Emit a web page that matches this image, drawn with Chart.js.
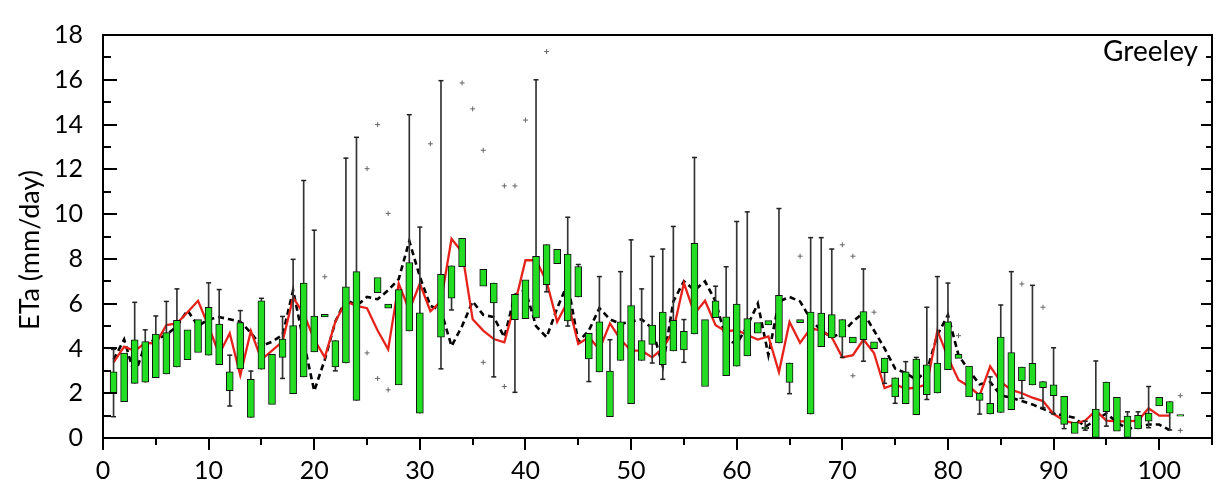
<!DOCTYPE html>
<html><head><meta charset="utf-8">
<script src="https://cdn.jsdelivr.net/npm/chart.js@4"></script>
<style>html,body{margin:0;padding:0;background:#fff}#wrap{width:1220px;height:499px}</style>
</head><body><div id="wrap"><canvas id="c" width="1220" height="499"></canvas></div>
<script>
// ---- data ----
const boxDays = [1,2,3,4,5,6,7,8,9,10,11,12,13,14,15,16,17,18,19,20,21,22,23,24,26,27,28,29,30,32,33,34,36,37,39,40,41,42,43,44,45,46,47,48,49,50,51,52,53,54,55,56,57,58,59,60,61,62,63,64,65,66,67,68,69,70,71,72,73,74,75,76,77,78,79,80,81,82,83,84,85,86,87,88,89,90,91,92,93,94,95,96,97,98,99,100,101,102];
const boxQ1 = [2.0,1.62,2.44,2.49,2.70,2.86,3.17,3.50,3.82,3.70,3.28,2.11,3.09,0.92,3.07,1.50,3.60,1.98,2.73,3.85,5.41,3.17,3.35,1.68,6.49,5.80,2.37,4.78,1.11,4.50,6.24,7.65,6.78,6.03,5.29,5.33,5.36,6.85,7.79,5.23,6.30,3.53,2.95,0.95,3.46,1.53,3.46,4.18,3.27,3.89,3.93,4.65,2.30,5.38,2.78,3.21,3.67,4.68,5.05,4.25,2.48,5.15,1.07,4.08,4.47,4.50,4.25,4.39,3.99,2.92,1.84,1.53,1.04,1.94,2.01,3.05,3.56,1.84,1.68,1.07,1.14,1.26,2.56,2.37,2.25,1.89,0.61,0.20,0.40,0.03,1.18,0.30,0.03,0.40,0.75,1.43,1.11,0.97];
const boxQ3 = [2.95,3.79,4.39,4.31,4.64,4.71,5.26,4.83,5.29,5.84,5.09,2.95,5.15,2.62,6.13,3.74,4.42,5.02,6.92,5.45,5.52,4.35,6.75,7.43,7.17,5.98,6.63,7.84,5.59,7.31,7.69,8.92,7.53,6.92,6.42,7.07,8.11,8.64,8.43,8.22,7.66,4.68,5.19,2.99,5.19,5.91,4.35,5.04,5.62,5.26,4.76,8.69,5.29,6.13,5.41,5.98,5.33,5.15,5.24,6.37,3.35,5.29,5.62,5.58,5.51,5.29,4.51,5.65,4.29,3.57,2.69,2.95,3.53,3.27,3.35,5.19,3.74,3.21,2.01,1.55,4.51,3.82,3.17,3.34,2.52,2.37,1.86,0.71,0.49,1.29,2.50,1.82,0.98,1.01,1.11,1.82,1.63,1.05];
const whiskMin = [0.95,null,null,null,null,null,null,null,null,null,null,1.43,null,null,null,null,2.66,null,null,null,null,3.0,null,null,null,null,null,null,null,3.09,5.72,null,null,2.73,2.04,null,null,6.53,null,5.0,null,2.52,null,null,null,null,null,3.35,2.62,null,3.38,null,null,null,null,null,null,null,null,null,1.98,null,null,null,null,3.60,null,3.43,null,2.44,1.55,null,null,1.72,null,null,null,null,1.07,null,null,null,1.77,null,1.36,1.07,0.42,null,0.35,null,0.53,null,null,null,0.46,null,0.36,null];
const whiskMax = [3.96,null,6.06,4.83,5.45,6.10,6.66,null,null,6.93,6.63,3.70,5.69,2.99,6.24,null,5.43,7.98,11.5,9.28,null,null,12.5,13.43,null,null,null,14.44,9.42,15.96,null,null,null,null,null,null,16.0,null,null,9.86,7.75,null,7.21,4.39,7.43,8.85,6.66,8.11,8.44,9.45,5.29,12.53,null,6.78,7.65,9.67,10.1,null,null,10.25,null,null,8.95,8.95,8.44,null,null,7.55,null,null,null,3.41,3.60,5.84,7.21,6.92,null,null,null,2.73,5.94,7.43,null,6.82,null,4.03,null,null,0.75,3.44,null,null,1.17,1.17,2.30,null,null,null];
const outlierDays = [21,25,25,26,26,27,27,31,34,35,36,36,38,38,39,40,42,66,70,71,71,73,81,87,89,102,102];
const outlierVals = [7.2,3.8,12.03,14.0,2.66,10.03,2.15,13.14,15.86,14.7,12.85,3.38,11.26,2.3,11.26,14.2,17.26,8.12,8.63,8.12,2.78,5.62,4.57,6.88,5.84,1.89,0.34];
const lineDays = Array.from({length:101},(_,i)=>i+1);
const redVals = [3.38,4.08,3.89,4.25,4.22,5.04,5.12,5.62,6.13,4.98,3.74,4.68,2.80,4.78,3.5,3.9,4.3,6.27,5.55,4.4,3.6,5.2,6.1,5.9,5.8,4.8,3.96,6.9,5.7,6.9,5.66,6.1,8.9,8.3,5.3,4.8,4.42,4.27,6.0,7.94,7.94,6.99,5.19,6.1,4.2,4.5,3.96,5.12,4.4,3.9,3.9,3.6,4.0,4.8,6.92,5.55,6.13,5.04,4.76,4.83,4.6,4.4,4.54,2.95,5.18,4.25,4.9,4.8,4.5,3.6,3.7,4.4,3.8,2.23,2.4,2.2,2.25,2.4,4.8,3.6,2.59,2.3,1.9,3.2,2.5,2.15,2.0,1.8,1.65,1.07,0.78,0.64,0.78,1.22,0.78,0.74,0.74,0.78,1.33,1.0,1.0];
const dashVals = [3.5,4.4,2.8,4.2,4.4,4.6,5.0,5.7,5.0,5.3,5.4,5.3,5.2,4.7,4.1,4.3,4.6,6.6,4.3,2.1,3.5,5.2,6.2,5.9,6.3,6.2,6.6,7.1,8.8,7.2,5.9,5.7,4.1,5.0,6.1,5.5,5.4,4.5,6.4,6.6,5.0,4.5,5.8,6.9,4.3,4.8,5.8,5.3,5.1,5.2,5.3,4.9,3.2,6.1,7.0,6.6,7.0,6.1,4.4,4.2,5.0,6.0,3.7,6.1,6.3,6.1,5.3,4.8,4.5,4.7,5.2,5.6,4.8,4.0,3.1,2.9,2.6,3.0,4.6,5.5,3.7,3.0,2.4,2.5,1.9,1.8,1.65,1.5,1.3,1.1,1.0,0.9,0.5,0.8,1.1,0.7,0.4,0.5,0.6,0.6,0.35];
const xTicks = [0,10,20,30,40,50,60,70,80,90,100];
const yTicks = [0,2,4,6,8,10,12,14,16,18];
const stationName = 'Greeley';
const yTitle = 'ETa (mm/day)';

// ---- build datasets ----
const FONT = 'Lato, "Open Sans", sans-serif';
const boxData = boxDays.map((d,i)=>({x:d, y:[boxQ1[i], boxQ3[i]]}));
const whiskData = [], capData = [];
boxDays.forEach((d,i)=>{
  const lo = whiskMin[i], hi = whiskMax[i];
  if (lo!=null || hi!=null) {
    whiskData.push({x:d, y:[lo!=null?lo:boxQ1[i], hi!=null?hi:boxQ3[i]]});
  }
  if (lo!=null) capData.push({x:d, y:lo});
  if (hi!=null) capData.push({x:d, y:hi});
});
const outData = outlierDays.map((d,i)=>({x:d, y:outlierVals[i]}));
const redData = lineDays.map((d,i)=>({x:d, y:redVals[i]}));
const dashData = lineDays.map((d,i)=>({x:d, y:dashVals[i]}));

const framePlugin = {
  id:'frame',
  afterDraw(chart){
    const {ctx, chartArea:a, scales:{x, y}} = chart;
    ctx.save();
    ctx.strokeStyle = '#000';
    ctx.lineWidth = 2;
    ctx.strokeRect(a.left, a.top, a.right-a.left, a.bottom-a.top);
    ctx.beginPath();
    for (let v=0; v<=18; v+=1) {
      const py = Math.round(y.getPixelForValue(v));
      const L = (v%2===0)?14:8;
      const R = (v%2===0)?11:6;
      ctx.moveTo(a.left, py); ctx.lineTo(a.left+L, py);
      ctx.moveTo(a.right, py); ctx.lineTo(a.right-R, py);
    }
    for (let v=0; v<=105; v+=5) {
      const px = Math.round(x.getPixelForValue(v));
      const L = (v%10===0)?12:7;
      ctx.moveTo(px, a.bottom); ctx.lineTo(px, a.bottom+L);
    }
    ctx.stroke();
    ctx.fillStyle = '#000';
    ctx.font = '28px ' + FONT;
    ctx.textAlign = 'right';
    ctx.textBaseline = 'alphabetic';
    ctx.fillText(stationName, a.right-14, 61);
    ctx.translate(30, 250);
    ctx.rotate(-Math.PI/2);
    ctx.textAlign = 'center';
    ctx.textBaseline = 'middle';
    ctx.font = '27px ' + FONT;
    ctx.fillText(yTitle, 0, 0);
    ctx.restore();
  }
};

new Chart(document.getElementById('c'), {
  type:'bar',
  data:{datasets:[
    {type:'bar', data:boxData, backgroundColor:'#22dd22', borderColor:'#111', borderWidth:1, borderSkipped:false, barThickness:7, grouped:false, order:1},
    {type:'scatter', data:capData, pointStyle:'line', pointRadius:2.5, borderColor:'#222', borderWidth:1.5, order:2},
    {type:'scatter', data:outData, pointStyle:'cross', pointRadius:2.5, borderColor:'#666', borderWidth:1, order:2},
    {type:'bar', data:whiskData, backgroundColor:'#333', barThickness:1, grouped:false, order:3},
    {type:'line', data:redData, borderColor:'#e5231b', borderWidth:2.3, pointRadius:0, tension:0, order:4},
    {type:'line', data:dashData, borderColor:'#000', borderWidth:2.6, borderDash:[6,4], pointRadius:0, tension:0, order:5}
  ]},
  options:{
    responsive:false, animation:false, devicePixelRatio:1,
    layout:{padding:{top:23, right:8, left:0, bottom:0}},
    plugins:{legend:{display:false}, tooltip:{enabled:false}},
    scales:{
      x:{type:'linear', min:0, max:105, offset:false,
         grid:{display:false, drawTicks:false}, border:{display:false},
         afterBuildTicks:s=>{s.ticks = xTicks.map(v=>({value:v}));},
         afterFit:s=>{s.height = 61;},
         ticks:{padding:18, color:'#000', font:{family:FONT, size:25}, maxRotation:0, autoSkip:false}},
      y:{type:'linear', min:0, max:18,
         grid:{display:false, drawTicks:false}, border:{display:false},
         afterBuildTicks:s=>{s.ticks = yTicks.map(v=>({value:v}));},
         afterFit:s=>{s.width = 103;},
         ticks:{padding:20, color:'#000', font:{family:FONT, size:25}}}
    }
  },
  plugins:[framePlugin]
});
</script>
</body></html>
